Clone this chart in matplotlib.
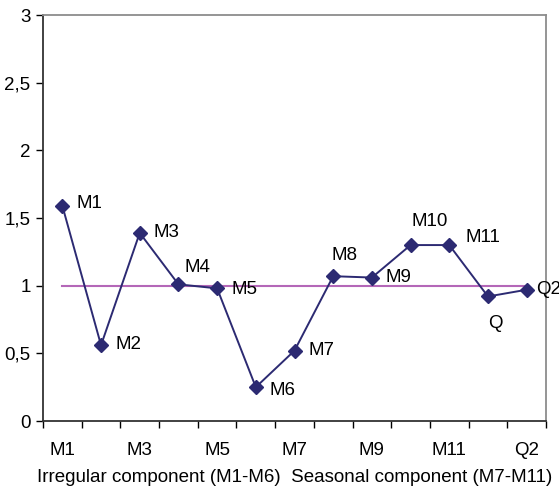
import matplotlib.pyplot as plt
from matplotlib.ticker import FuncFormatter, FixedLocator

# Data
categories = ["M1", "M2", "M3", "M4", "M5", "M6", "M7", "M8", "M9", "M10", "M11", "Q", "Q2"]
values = [1.59, 0.56, 1.39, 1.01, 0.98, 0.25, 0.52, 1.07, 1.06, 1.30, 1.30, 0.92, 0.97]
reference = [1] * len(categories)
tick_labels = ["M1", "M3", "M5", "M7", "M9", "M11", "Q2"]

# label offsets in pixels relative to each marker
label_offsets = {
    "M1": (14, 2), "M2": (14, 1), "M3": (14, 0), "M4": (6, 17), "M5": (14, -1),
    "M6": (14, -3), "M7": (14, 0), "M8": (-2, 21), "M9": (14, 0), "M10": (1, 24),
    "M11": (16, 8), "Q": (0, -27), "Q2": (9, 0),
}

plt.rcParams['font.family'] = ['Liberation Sans', 'DejaVu Sans']
FS = 13.5

fig = plt.figure(figsize=(5.59, 4.87), dpi=100)
ax = fig.add_axes([43 / 559, 66 / 487, 503 / 559, 406 / 487])

x = list(range(len(categories)))
ax.plot(x, reference, color='#b467b8', linewidth=1.5, zorder=2)
ax.plot(x, values, color='#2c2a72', linewidth=1.4, marker='D', markersize=7, zorder=3)

for i, name in enumerate(categories):
    dx, dy = label_offsets[name]
    ax.annotate(name, (x[i], values[i]), xytext=(dx, dy), textcoords='offset pixels',
                ha='left', va='center', fontsize=FS, color='black', zorder=4, clip_on=False)

ax.set_xlim(-0.5, len(categories) - 0.5)
ax.set_ylim(0, 3)

# category ticks: marks on boundaries, labels on every other category
ax.xaxis.set_major_locator(FixedLocator([categories.index(t) for t in tick_labels]))
ax.set_xticklabels(tick_labels)
ax.xaxis.set_minor_locator(FixedLocator([i - 0.5 for i in range(len(categories) + 1)]))
ax.tick_params(axis='x', which='major', length=0, pad=15, labelsize=FS)
ax.tick_params(axis='x', which='minor', length=5, width=1, color='black', direction='out')

ax.set_yticks([0, 0.5, 1, 1.5, 2, 2.5, 3])
ax.yaxis.set_major_formatter(FuncFormatter(lambda v, p: f"{v:g}".replace('.', ',')))
ax.tick_params(axis='y', length=5, width=1, color='black', direction='out', labelsize=FS, pad=4)

for side in ("left", "bottom"):
    ax.spines[side].set_color('#333333')
    ax.spines[side].set_linewidth(1.3)
for side in ("top", "right"):
    ax.spines[side].set_color('#8c8c8c')
    ax.spines[side].set_linewidth(1.3)

ax.set_xlabel("Irregular component (M1-M6)  Seasonal component (M7-M11)", fontsize=FS, labelpad=7)

fig.savefig("out.png", dpi=100)
